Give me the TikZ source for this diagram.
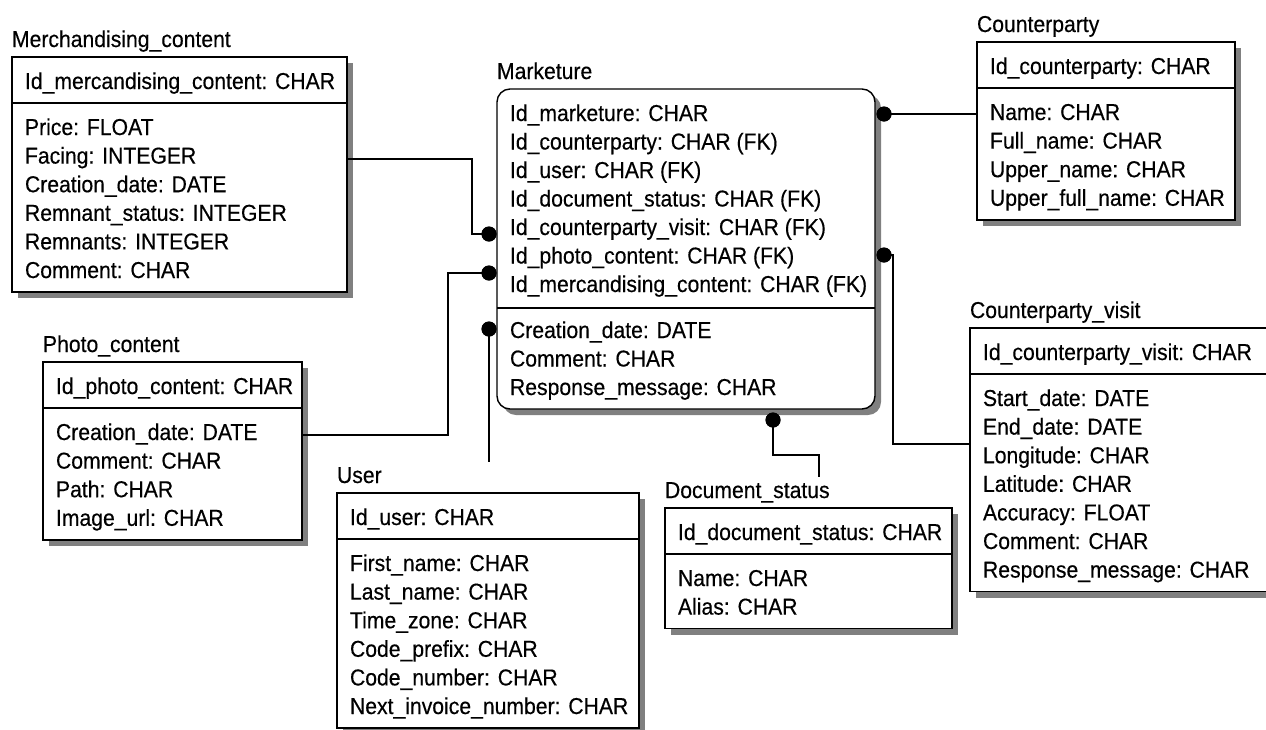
\documentclass[tikz,border=0pt]{standalone}
\usepackage{fontspec}
\setmainfont[FakeStretch=0.92, FakeBold=0.4]{Liberation Sans}
\usetikzlibrary{shadows}

\newcommand\fieldfont{\fontsize{23}{27}\selectfont}

\tikzset{
  entbox/.style={draw, line width=1.4pt, fill=white, inner sep=0pt, outer sep=0pt,
    anchor=north west,
    drop shadow={shadow xshift=6pt, shadow yshift=-6pt, fill=black!50, opacity=1}},
  field/.style={anchor=base west, inner sep=0pt, outer sep=0pt, font=\fieldfont},
  etitle/.style={field},
  divider/.style={line width=1.4pt},
  conn/.style={line width=1.3pt},
  fkdot/.style={circle, fill=black, draw=none, inner sep=0pt, minimum size=15pt},
}

% An entity table: id, left, top, right, title, key field, number of fields, fields
\newcommand\erentity[8]{%
  \pgfmathsetmacro\entw{#4-#2}%
  \pgfmathsetmacro\enth{92+(#7-1)*28.6}%
  \node[entbox, minimum width=\entw pt, minimum height=\enth pt] (#1) at (#2,#3) {};
  \node[etitle] (#1-title) at (#2,#3-10) {#5};
  \draw[divider] (#2,#3+46) -- (#4,#3+46);
  \node[field] (#1-key) at (#2+13,#3+32) {#6};
  \foreach \fld [count=\k] in {#8} {\node[field] (#1-f\k) at (#2+13,#3+78+28.6*\k-28.6) {\fld};}
}

\begin{document}
\begin{tikzpicture}[x=1pt, y=-1pt]
\useasboundingbox (0,0) rectangle (1266,729);

% ---- entities ----
\erentity{merch}{12}{57}{347}{Merchandising\_content}{Id\_mercandising\_content: CHAR}{6}%
  {Price: FLOAT, Facing: INTEGER, Creation\_date: DATE, Remnant\_status: INTEGER, Remnants: INTEGER, Comment: CHAR}
\erentity{photo}{43}{362}{302}{Photo\_content}{Id\_photo\_content: CHAR}{4}%
  {Creation\_date: DATE, Comment: CHAR, Path: CHAR, Image\_url: CHAR}
\erentity{user}{337}{493}{639}{User}{Id\_user: CHAR}{6}%
  {First\_name: CHAR, Last\_name: CHAR, Time\_zone: CHAR, Code\_prefix: CHAR, Code\_number: CHAR, Next\_invoice\_number: CHAR}
\erentity{docst}{665}{508}{952}{Document\_status}{Id\_document\_status: CHAR}{2}%
  {Name: CHAR, Alias: CHAR}
\erentity{cparty}{977}{42}{1235}{Counterparty}{Id\_counterparty: CHAR}{4}%
  {Name: CHAR, Full\_name: CHAR, Upper\_name: CHAR, Upper\_full\_name: CHAR}
\erentity{visit}{970}{328}{1274}{Counterparty\_visit}{Id\_counterparty\_visit: CHAR}{7}%
  {Start\_date: DATE, End\_date: DATE, Longitude: CHAR, Latitude: CHAR, Accuracy: FLOAT, Comment: CHAR, Response\_message: CHAR}

% ---- dependent entity (rounded) ----
\node[entbox, rounded corners=13pt, minimum width=378pt, minimum height=320pt] (mkt) at (497,89) {};
\node[etitle] (mkt-title) at (497,79) {Marketure};
\foreach \fld [count=\k] in {Id\_marketure: CHAR, Id\_counterparty: CHAR (FK), Id\_user: CHAR (FK),
    Id\_document\_status: CHAR (FK), Id\_counterparty\_visit: CHAR (FK), Id\_photo\_content: CHAR (FK),
    Id\_mercandising\_content: CHAR (FK)}
  {\node[field] (mkt-k\k) at (510,121+28.5*\k-28.5) {\fld};}
\draw[divider] (mkt.west |- 0,308) -- (mkt.east |- 0,308);
\foreach \fld [count=\k] in {Creation\_date: DATE, Comment: CHAR, Response\_message: CHAR}
  {\node[field] (mkt-f\k) at (510,338+28.5*\k-28.5) {\fld};}

% ---- relationship end points ----
\node[fkdot] (d-merch) at (489,234) {};
\node[fkdot] (d-photo) at (489,273) {};
\node[fkdot] (d-user)  at (489,329) {};
\node[fkdot] (d-cp)    at (884,114) {};
\node[fkdot] (d-visit) at (884,255) {};
\node[fkdot] (d-doc)   at (773,420) {};

\coordinate (m1) at (472,159);
\coordinate (p1) at (448,435);
\coordinate (u1) at (489,462);
\coordinate (v1) at (893,444);
\coordinate (s1) at (773,455);
\coordinate (s2) at (819,477);

% ---- relationships ----
\draw[conn] (m1 -| merch.east) -- (m1) |- (d-merch.center);
\draw[conn] (p1 -| photo.east) -- (p1) |- (d-photo.center);
\draw[conn] (d-user.center) -- (u1);
\draw[conn] (d-cp.center) -- (d-cp -| cparty.west);
\draw[conn] (d-visit.center) -| (v1) -- (v1 -| visit.west);
\draw[conn] (d-doc.center) -- (s1) -| (s2);

% dots on top of the lines
\foreach \d in {d-merch, d-photo, d-user, d-cp, d-visit, d-doc}
  \fill (\d) circle (7.5pt);
\end{tikzpicture}
\end{document}
